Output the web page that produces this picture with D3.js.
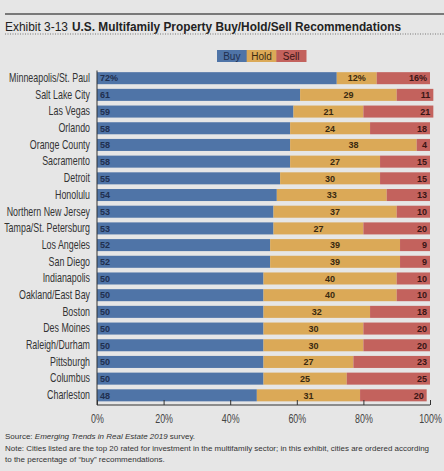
<!DOCTYPE html>
<html><head><meta charset="utf-8">
<script src="https://cdn.jsdelivr.net/npm/d3@7"></script>
<style>
html,body{margin:0;padding:0;background:#e6e6e6;}
svg{display:block;}
</style></head>
<body>
<script>
const cities = ["Minneapolis/St. Paul","Salt Lake City","Las Vegas","Orlando","Orange County","Sacramento","Detroit","Honolulu","Northern New Jersey","Tampa/St. Petersburg","Los Angeles","San Diego","Indianapolis","Oakland/East Bay","Boston","Des Moines","Raleigh/Durham","Pittsburgh","Columbus","Charleston"];
const buy  = [72,61,59,58,58,58,55,54,53,53,52,52,50,50,50,50,50,50,50,48];
const hold = [12,29,21,24,38,27,30,33,37,27,39,39,40,40,32,30,30,27,25,31];
const sell = [16,11,21,18,4,15,15,13,10,20,9,9,10,10,18,20,20,23,25,20];
const seriesNames = ["Buy","Hold","Sell"];
const tickValues = [0,20,40,60,80,100];

const W = 444, H = 471;
const colors = {Buy:"#4f74a7", Hold:"#dba957", Sell:"#c3625d"};
const textColors = {Buy:"#1f2f4f", Hold:"#3a2a10", Sell:"#3a1515"};
const sans = "'Liberation Sans',Arial,sans-serif";

const svg = d3.select("body").append("svg").attr("width",W).attr("height",H);
svg.append("rect").attr("width",W).attr("height",H).attr("fill","#e6e6e6");

// header
svg.append("line").attr("x1",5).attr("x2",W).attr("y1",14).attr("y2",14).attr("stroke","#555").attr("stroke-width",1.3);
svg.append("text").attr("x",5).attr("y",31).attr("font-family",sans).attr("font-size",12.3).attr("fill","#222")
  .attr("textLength",63).attr("lengthAdjust","spacingAndGlyphs").text("Exhibit 3-13");
svg.append("text").attr("x",72).attr("y",31).attr("font-family",sans).attr("font-size",12).attr("font-weight","bold").attr("fill","#222")
  .attr("textLength",329).attr("lengthAdjust","spacingAndGlyphs").text("U.S. Multifamily Property Buy/Hold/Sell Recommendations");
svg.append("line").attr("x1",5).attr("x2",W).attr("y1",34).attr("y2",34).attr("stroke","#777").attr("stroke-width",1).attr("stroke-dasharray","1,1.5");

// legend
const legX = d3.scaleBand().domain(seriesNames).range([217,306]);
const leg = svg.append("g");
seriesNames.forEach(s=>{
  leg.append("rect").attr("x",legX(s)).attr("y",50).attr("width",legX.bandwidth()+0.5).attr("height",12).attr("fill",colors[s]);
  leg.append("text").attr("x",legX(s)+legX.bandwidth()/2).attr("y",59.5).attr("text-anchor","middle")
    .attr("font-family",sans).attr("font-size",10).attr("fill",textColors[s]).text(s);
});

// scales
const x = d3.scaleLinear().domain([0,100]).range([97,430]);
const y = d3.scaleBand().domain(cities).range([70.5,403]).paddingInner(0.28).paddingOuter(0.1);

const stackData = cities.map((c,i)=>({city:c, Buy:buy[i], Hold:hold[i], Sell:sell[i]}));
const stack = d3.stack().keys(seriesNames)(stackData);

const g = svg.append("g");
stack.forEach(layer=>{
  const key = layer.key;
  g.selectAll(null).data(layer).enter().append("rect")
    .attr("x",d=>x(d[0])).attr("y",d=>y(d.data.city))
    .attr("width",d=>x(d[1])-x(d[0])).attr("height",y.bandwidth())
    .attr("fill",colors[key]);
  g.selectAll(null).data(layer).enter().append("text")
    .attr("x",d=> key==="Buy" ? x(d[0])+3 : key==="Hold" ? (x(d[0])+x(d[1]))/2 : x(d[1])-3)
    .attr("y",d=>y(d.data.city)+y.bandwidth()/2+3.3)
    .attr("text-anchor", key==="Buy" ? "start" : key==="Hold" ? "middle" : "end")
    .attr("font-family",sans).attr("font-weight","bold").attr("font-size",9)
    .attr("fill",textColors[key])
    .text((d,i)=> (d.data[key]) + (i===0 ? "%" : ""));
});

const SX = 0.74; // condensed look

// y axis
const yAxis = d3.axisLeft(y).tickSize(0).tickPadding(0);
const ya = svg.append("g").attr("transform",`translate(${x(0)},0)`).call(yAxis);
ya.select(".domain").attr("stroke","#333").attr("d",`M0,70.5V405`);
ya.selectAll("text").attr("font-family",sans).attr("font-size",12).attr("fill","#333")
  .attr("x",-7/SX).attr("transform",`scale(${SX},1)`);

// x axis
const xAxis = d3.axisTop(x).tickValues(tickValues).tickSize(5).tickFormat(d=>d+"%");
const xa = svg.append("g").attr("transform","translate(0,405)").call(xAxis);
xa.select(".domain").attr("stroke","#333").attr("d",`M${x(0)},0H${x(100)}`);
xa.selectAll(".tick line").attr("stroke","#333");
xa.selectAll("text").attr("font-family",sans).attr("font-size",12).attr("fill","#444").attr("y",14).attr("dy","0.32em")
  .attr("transform",`scale(${SX},1)`);

// footer
const f = svg.append("g").attr("font-family",sans).attr("font-size",8).attr("fill","#333");
const s1 = f.append("text").attr("x",5).attr("y",439);
s1.append("tspan").text("Source: ");
s1.append("tspan").attr("font-style","italic").text("Emerging Trends in Real Estate 2019");
s1.append("tspan").text(" survey.");
f.append("text").attr("x",5).attr("y",451).attr("textLength",424).attr("lengthAdjust","spacingAndGlyphs")
  .text("Note: Cities listed are the top 20 rated for investment in the multifamily sector; in this exhibit, cities are ordered according");
f.append("text").attr("x",5).attr("y",462).text("to the percentage of \u201cbuy\u201d recommendations.");
</script>
</body></html>
